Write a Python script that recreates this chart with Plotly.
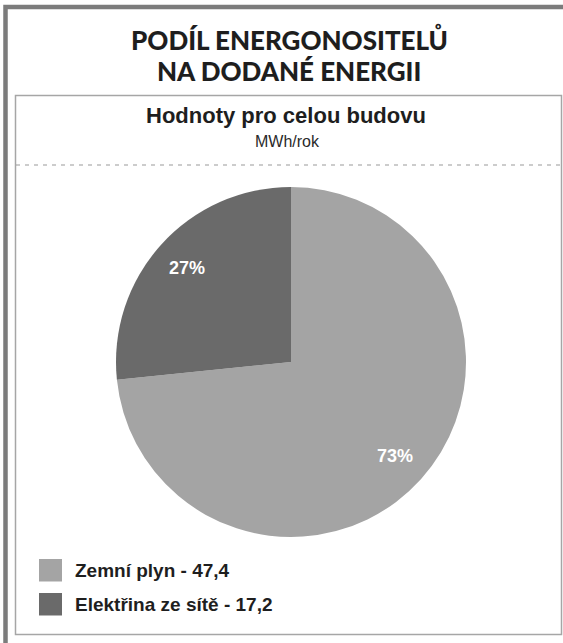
import math
import plotly.graph_objects as go

# ---- data ----
labels = ["Zemní plyn", "Elektřina ze sítě"]
values = [47.4, 17.2]
colors = ["#a4a4a4", "#6a6a6a"]
title_lines = ["PODÍL ENERGONOSITELŮ", "NA DODANÉ ENERGII"]
subtitle = "Hodnoty pro celou budovu"
unit = "MWh/rok"

W, H = 563, 643


def X(px):
    return px / W


def Y(py):
    return 1 - py / H


# pie geometry (pixels)
CX, CY, R = 291, 362, 175

fig = go.Figure()
fig.add_trace(go.Pie(
    labels=labels,
    values=values,
    sort=False,
    direction="clockwise",
    rotation=0,
    marker=dict(colors=colors, line=dict(width=0)),
    textinfo="none",
    hoverinfo="label+value+percent",
    showlegend=False,
    domain=dict(x=[X(CX - R), X(CX + R)], y=[Y(CY + R), Y(CY - R)]),
))

annotations = []
shapes = []

# percentage labels computed from data
total = sum(values)
cum = 0.0
for v in values:
    mid = (cum + v / 2) / total * 2 * math.pi
    cum += v
    f = 0.8
    px = CX + f * R * math.sin(mid)
    py = CY - f * R * math.cos(mid)
    annotations.append(dict(
        x=X(px), y=Y(py), xref="paper", yref="paper",
        text=f"{round(v / total * 100)}%", showarrow=False,
        font=dict(family="Liberation Sans, Arial", size=18, color="white", weight="bold"),
        xanchor="center", yanchor="middle",
    ))

# titles
title_font = dict(family="Lato, Open Sans, sans-serif", size=26, color="#1e1e1e", weight=900)
for i, t in enumerate(title_lines):
    annotations.append(dict(
        x=X(289), y=Y(40 + i * 31), xref="paper", yref="paper", text=t,
        showarrow=False, font=title_font, xanchor="center", yanchor="middle",
    ))
annotations.append(dict(
    x=X(286), y=Y(116), xref="paper", yref="paper", text=subtitle, showarrow=False,
    font=dict(family="Liberation Sans, Arial", size=22, color="#1e1e1e", weight="bold"),
    xanchor="center", yanchor="middle",
))
annotations.append(dict(
    x=X(287), y=Y(141), xref="paper", yref="paper", text=unit, showarrow=False,
    font=dict(family="Liberation Sans, Arial", size=16, color="#2a2a2a"),
    xanchor="center", yanchor="middle",
))

# custom legend
for i, (lab, v, c) in enumerate(zip(labels, values, colors)):
    y0 = 559 + i * 34
    shapes.append(dict(type="rect", xref="paper", yref="paper",
                       x0=X(39), x1=X(62), y0=Y(y0), y1=Y(y0 + 22.5),
                       fillcolor=c, line=dict(width=0)))
    annotations.append(dict(
        x=X(73), y=Y(y0 + 11.5), xref="paper", yref="paper",
        text=f"{lab} - {v:.1f}".replace(".", ","), showarrow=False,
        font=dict(family="Liberation Sans, Arial", size=19, color="#1e1e1e", weight="bold"),
        xanchor="left", yanchor="middle",
    ))

# frames
shapes.append(dict(type="rect", xref="paper", yref="paper",
                   x0=X(5.5), x1=X(620), y0=Y(7), y1=Y(700),
                   line=dict(color="#7c7c7c", width=4.5)))
shapes.append(dict(type="rect", xref="paper", yref="paper",
                   x0=X(15.5), x1=X(561.5), y0=Y(95.5), y1=Y(634.5),
                   line=dict(color="#a6a6a6", width=1.5)))
shapes.append(dict(type="line", xref="paper", yref="paper",
                   x0=X(16), x1=X(561), y0=Y(165), y1=Y(165),
                   line=dict(color="#9a9a9a", width=1.2, dash="4px,5px")))

fig.update_layout(
    width=W, height=H,
    margin=dict(l=0, r=0, t=0, b=0),
    paper_bgcolor="white",
    plot_bgcolor="white",
    annotations=annotations,
    shapes=shapes,
)

fig.write_html(
    "out.html",
    config={"displayModeBar": False},
    post_script="document.body.style.margin='0';document.body.style.overflow='hidden';",
)
